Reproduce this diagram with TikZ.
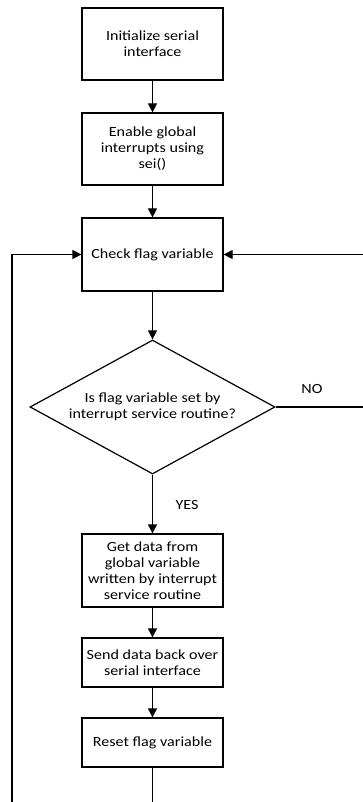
\documentclass[tikz,border=0pt]{standalone}
\usepackage{fontspec}
\setmainfont{Carlito}[FakeStretch=1.15]
\usetikzlibrary{arrows.meta,shapes.geometric}
\begin{document}
\begin{tikzpicture}[x=1pt,y=-1pt,
  font=\fontsize{14}{16}\selectfont,
  line width=1.2pt,
  box/.style={draw,rectangle,minimum width=141pt,inner sep=0pt,align=center},
  dec/.style={draw,diamond,aspect=1.83,inner sep=0pt,minimum width=245pt,minimum height=134pt,align=center},
  arr/.style={-{Triangle[width=9pt,length=9pt]}},
  lbl/.style={inner sep=0pt}]
\useasboundingbox (0,0) rectangle (363,802);
\node[box,minimum height=72pt] (b1) at (152.5,44) {Initialize serial\\interface};
\node[box,minimum height=72pt] (b2) at (152.5,149) {Enable global\\interrupts using\\sei()};
\node[box,minimum height=73pt] (b3) at (152.5,254.5) {Check flag variable};
\node[dec] (d) at (152.5,407) {Is flag variable set by\\interrupt service routine?};
\node[box,minimum height=73pt] (b4) at (152.5,570.5) {Get data from\\global variable\\written by interrupt\\service routine};
\node[box,minimum height=49pt] (b5) at (152.5,662.5) {Send data back over\\serial interface};
\node[box,minimum height=49pt] (b6) at (152.5,742.5) {Reset flag variable};
\node[lbl] (no) at (312,389) {NO};
\node[lbl] (yes) at (187,505) {YES};
\coordinate (rc) at (364.6,0);
\coordinate (lb) at (12,806);
\coordinate (be) at (152.5,806);
\draw[arr] (b1) -- (b2);
\draw[arr] (b2) -- (b3);
\draw[arr] (b3) -- (d);
\draw[arr] (d) -- (b4);
\draw[arr] (b4) -- (b5);
\draw[arr] (b5) -- (b6);
\draw (b6) -- (be);
\draw[arr] (lb) |- (b3.west);
\draw[arr] (d.east) -- (d.east -| rc) |- (b3.east);
\end{tikzpicture}
\end{document}
